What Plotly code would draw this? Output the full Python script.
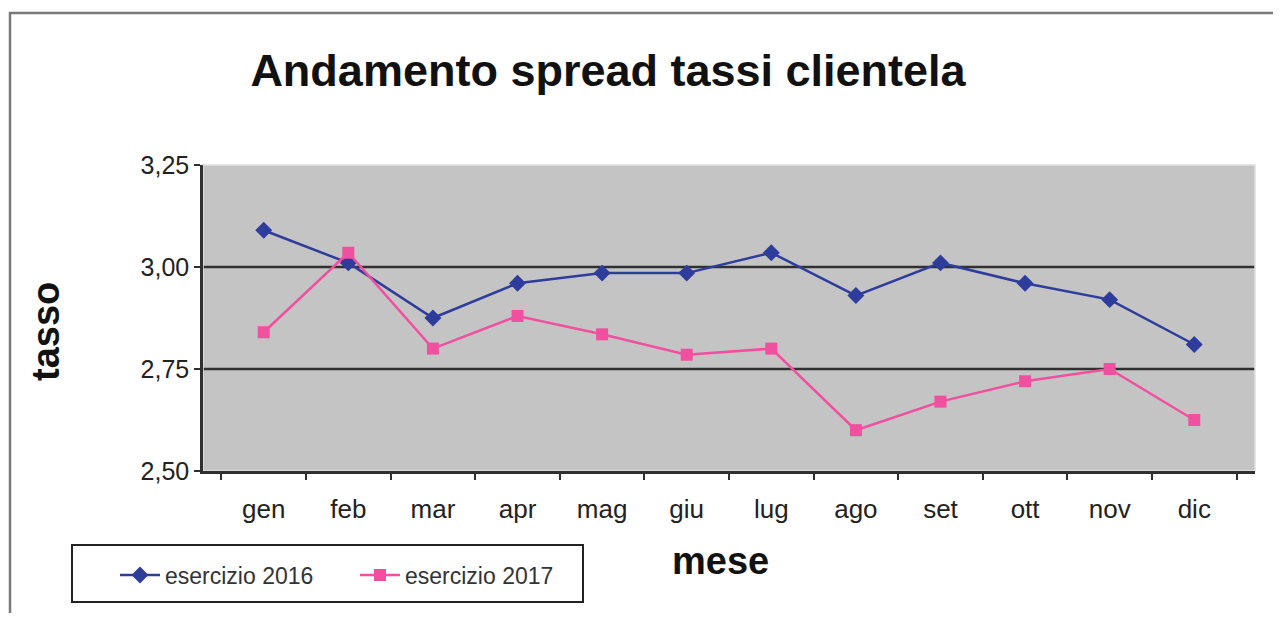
import plotly.graph_objects as go

mesi = ["gen", "feb", "mar", "apr", "mag", "giu", "lug", "ago", "set", "ott", "nov", "dic"]
esercizio_2016 = [3.09, 3.01, 2.875, 2.96, 2.985, 2.985, 3.035, 2.93, 3.01, 2.96, 2.92, 2.81]
esercizio_2017 = [2.84, 3.035, 2.80, 2.88, 2.835, 2.785, 2.80, 2.60, 2.67, 2.72, 2.75, 2.625]
y_ticks = [2.50, 2.75, 3.00, 3.25]
grid_values = [2.75, 3.00]

OFF = 8  # default body margin of the html page
W, H = 1281 - 2 * OFF, 621 - 2 * OFF
ML, MT = 203 - OFF, 165 - OFF
MR = W - (1255 - OFF)
MB = H - (471 - OFF)
PW = W - ML - MR
PH = H - MT - MB


def px_x(p):
    return (p - OFF - ML) / PW


def px_y(p):
    return (H - MB - (p - OFF)) / PH


FONT = "Liberation Sans, Arial, sans-serif"
BLUE = "#2e3c9c"
PINK = "#f0509f"

fig = go.Figure()
fig.add_trace(go.Scatter(
    x=mesi, y=esercizio_2016, name="esercizio 2016", mode="lines+markers",
    line=dict(color=BLUE, width=2.5),
    marker=dict(symbol="diamond", size=13, color=BLUE),
))
fig.add_trace(go.Scatter(
    x=mesi, y=esercizio_2017, name="esercizio 2017", mode="lines+markers",
    line=dict(color=PINK, width=2.5),
    marker=dict(symbol="square", size=12, color=PINK),
))

for g in grid_values:
    fig.add_shape(type="line", xref="paper", yref="y", x0=0, x1=1, y0=g, y1=g,
                  line=dict(color="#303030", width=2.5), layer="below")

# outer frame
fig.add_shape(type="rect", xref="paper", yref="paper",
              x0=px_x(10), x1=px_x(1400), y0=px_y(700), y1=px_y(13),
              line=dict(color="#7a7a7a", width=2.5), fillcolor="rgba(0,0,0,0)")
# legend box
fig.add_shape(type="rect", xref="paper", yref="paper",
              x0=px_x(72), x1=px_x(583), y0=px_y(602), y1=px_y(545),
              line=dict(color="#222222", width=2), fillcolor="white")
# light border of plot area
fig.add_shape(type="rect", xref="paper", yref="paper", x0=0, x1=1, y0=0, y1=1,
              line=dict(color="#e0e0e0", width=1.5), fillcolor="rgba(0,0,0,0)", layer="below")

fig.update_layout(
    width=W, height=H,
    margin=dict(l=ML, r=MR, t=MT, b=MB),
    paper_bgcolor="white",
    plot_bgcolor="#c4c4c4",
    separators=", ",
    font=dict(family=FONT, color="#222222"),
    title=dict(text="<b>Andamento spread tassi clientela</b>", x=(608 - OFF) / W, xanchor="center",
               y=1 - (70 - OFF) / H, yanchor="middle", font=dict(size=45, color="#111111", family=FONT)),
    showlegend=True,
    legend=dict(orientation="h", x=px_x(115), y=px_y(575), xanchor="left", yanchor="middle",
                borderwidth=0, bgcolor="rgba(0,0,0,0)",
                font=dict(size=23, color="#333333", family=FONT),
                entrywidth=185, itemwidth=40),
)
fig.update_xaxes(
    type="category", showline=True, linecolor="#303030", linewidth=2.5,
    ticks="outside", tickson="boundaries", ticklen=6, tickcolor="#303030", tickwidth=2,
    tickfont=dict(size=26, color="#222222"), showgrid=False, mirror=False,
    ticklabelstandoff=13,
)
fig.update_yaxes(
    range=[2.5, 3.25], tickvals=y_ticks, tickformat=".2f",
    showline=True, linecolor="#303030", linewidth=2.5,
    ticks="outside", ticklen=6, tickcolor="#303030", tickwidth=2,
    tickfont=dict(size=25, color="#222222"), showgrid=False, zeroline=False,
)

fig.add_annotation(text="<b>tasso</b>", xref="paper", yref="paper", x=px_x(46), y=px_y(332),
                   xanchor="center", yanchor="middle",
                   textangle=-90, showarrow=False, font=dict(size=38, color="#111111", family=FONT))
fig.add_annotation(text="<b>mese</b>", xref="paper", yref="paper", x=px_x(720), y=px_y(561),
                   xanchor="center", yanchor="middle",
                   showarrow=False, font=dict(size=38, color="#111111", family=FONT))

fig.write_html("out.html")
